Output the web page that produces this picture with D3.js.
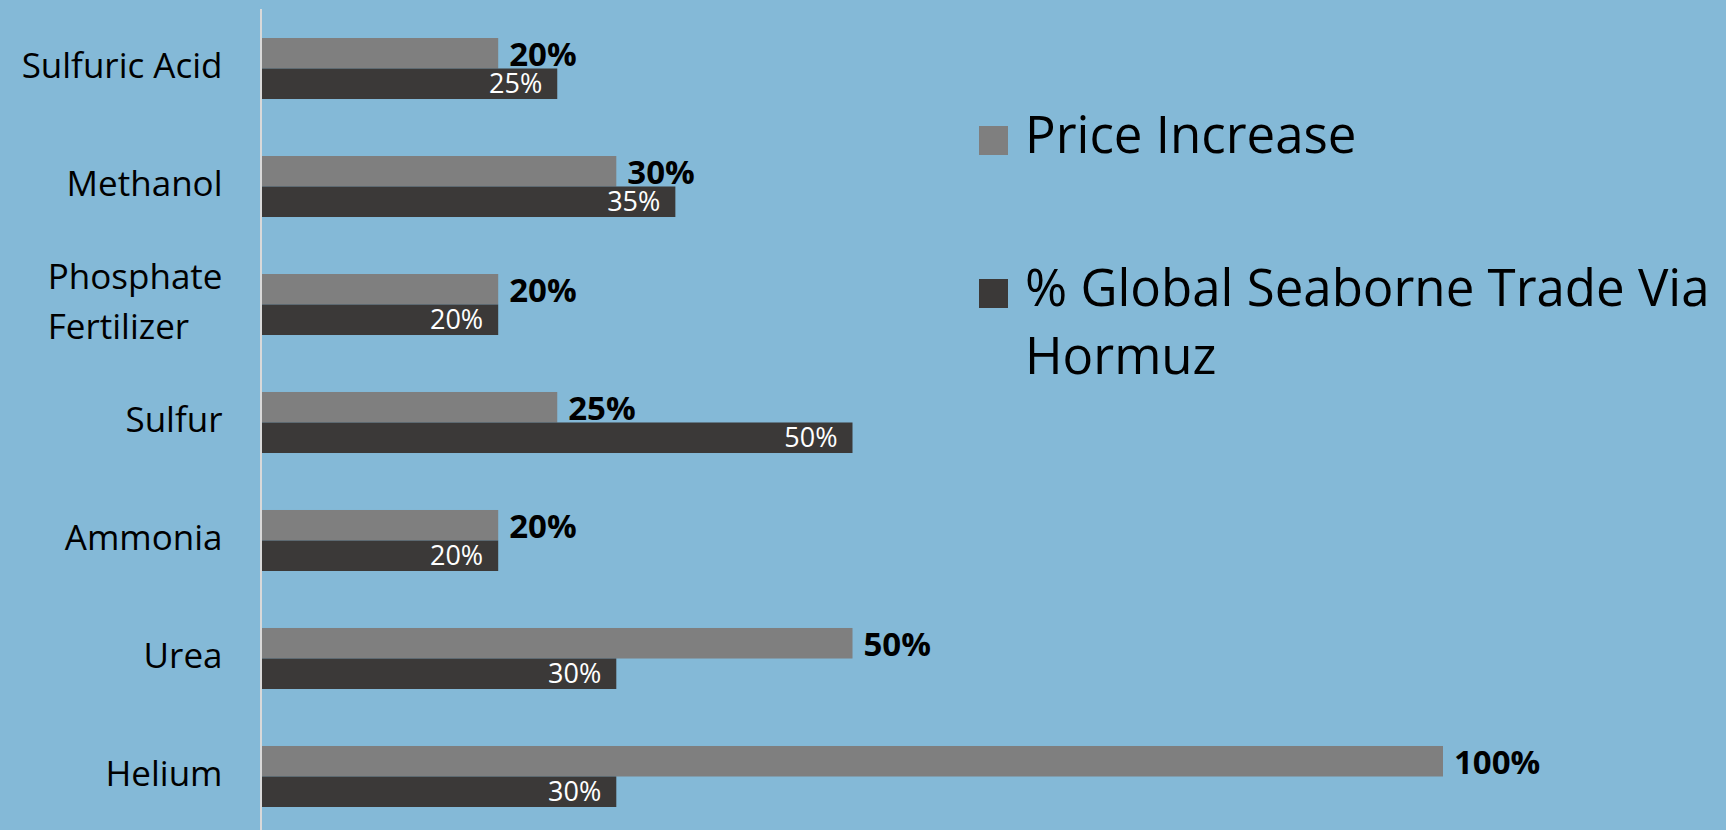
<!DOCTYPE html>
<html>
<head>
<meta charset="utf-8">
<script src="https://cdn.jsdelivr.net/npm/d3@7"></script>
<style>
  body { margin: 0; background: #84b9d7; }
  svg { display: block; font-family: "Open Sans", sans-serif; }
</style>
</head>
<body>
<div id="chart"></div>
<script>
// chart data
var categories = ["Sulfuric Acid", "Methanol", "Phosphate Fertilizer", "Sulfur", "Ammonia", "Urea", "Helium"];
var seriesNames = ["Price Increase", "% Global Seaborne Trade Via Hormuz"];
var priceIncrease = [20, 30, 20, 25, 20, 50, 100];
var seaborneShare = [25, 35, 20, 50, 20, 30, 30];
var seriesColors = ["#7f7f7f", "#3b3938"];

var width = 1726,
    height = 830,
    margin = {left: 262},
    labelSize = 35;

var rows = categories.map(function(c, i) {
  return {name: c, values: [priceIncrease[i], seaborneShare[i]]};
});

var svg = d3.select("#chart").append("svg")
  .attr("width", width)
  .attr("height", height);

svg.append("rect")
  .attr("width", width).attr("height", height)
  .attr("fill", "#84b9d7");

var x = d3.scaleLinear()
  .domain([0, 100])
  .range([margin.left, 1443]);

var y = d3.scaleBand()
  .domain(categories)
  .range([8.5, 836.5])
  .paddingInner(0.483)
  .paddingOuter(0.25);

var ySub = d3.scaleBand()
  .domain([0, 1])
  .range([0, y.bandwidth()]);

// category axis on the left
var yAxis = d3.axisLeft(y).tickSize(0).tickPadding(38);

var axisG = svg.append("g")
  .attr("class", "axis")
  .attr("transform", "translate(" + (margin.left - 1.5) + ",0)")
  .call(yAxis)
  .attr("font-family", null)
  .attr("font-size", null);

axisG.select(".domain")
  .attr("stroke", "#d9d9d9")
  .attr("stroke-width", 2);

axisG.selectAll(".tick text")
  .attr("fill", "#000")
  .attr("dy", "0.28em")
  .style("font-size", labelSize + "px")
  .style("font-weight", 500)
  .call(wrap, 15, 50);

// bars
var groups = svg.selectAll(".row").data(rows).enter()
  .append("g")
    .attr("class", "row")
    .attr("transform", function(d) { return "translate(0," + y(d.name) + ")"; });

groups.selectAll("rect.bar")
  .data(function(d) { return d.values.map(function(v, k) { return {k: k, v: v}; }); })
  .enter().append("rect")
    .attr("class", "bar")
    .attr("x", x(0))
    .attr("y", function(d) { return ySub(d.k); })
    .attr("width", function(d) { return x(d.v) - x(0); })
    .attr("height", ySub.bandwidth())
    .attr("fill", function(d) { return seriesColors[d.k]; });

// price labels: bold, outside the bar
groups.append("text")
  .attr("x", function(d) { return x(d.values[0]) + 11; })
  .attr("y", ySub(0) + ySub.bandwidth() / 2)
  .attr("dy", "0.4em")
  .style("font-size", "33px")
  .style("font-weight", 700)
  .attr("fill", "#000")
  .text(function(d) { return d.values[0] + "%"; });

// share labels: white, inside the bar end
groups.append("text")
  .attr("x", function(d) { return x(d.values[1]) - 15; })
  .attr("y", ySub(1) + ySub.bandwidth() / 2)
  .attr("dy", "0.36em")
  .attr("text-anchor", "end")
  .style("font-size", "27px")
  .attr("fill", "#fff")
  .text(function(d) { return d.values[1] + "%"; });

// legend
var legend = svg.selectAll(".legend").data(seriesNames).enter()
  .append("g")
    .attr("class", "legend")
    .attr("transform", function(d, i) { return "translate(979," + (126 + i * 153) + ")"; });

legend.append("rect")
  .attr("width", 29).attr("height", 29)
  .attr("fill", function(d, i) { return seriesColors[i]; });

legend.append("text")
  .attr("x", 46)
  .attr("y", 27)
  .style("font-size", "51px")
  .style("font-weight", 500)
  .attr("fill", "#000")
  .text(function(d) { return d; })
  .each(function() {
    var t = d3.select(this),
        lines = splitLines(t.text(), 28);
    t.text(null);
    lines.forEach(function(l, i) {
      t.append("tspan").attr("x", 46).attr("dy", i ? 68 : 0).text(l);
    });
  });

function splitLines(str, maxChars) {
  var lines = [], line = [];
  str.split(/\s+/).forEach(function(w) {
    if (line.length && line.concat(w).join(" ").length > maxChars) { lines.push(line.join(" ")); line = [w]; }
    else line.push(w);
  });
  lines.push(line.join(" "));
  return lines;
}

// split long category names onto lines, left aligned inside the label block
function wrap(text, maxChars, lineHeight) {
  text.each(function() {
    var t = d3.select(this),
        lines = splitLines(t.text(), maxChars);
    if (lines.length < 2) return;
    var x0 = +t.attr("x");
    t.text(null);
    var spans = lines.map(function(l, i) {
      var dy = i ? lineHeight : 0.28 * labelSize - (lines.length - 1) * lineHeight / 2;
      return t.append("tspan").attr("dy", dy).text(l);
    });
    var w = d3.max(spans, function(s) { return s.node().getComputedTextLength(); });
    t.attr("text-anchor", "start");
    spans.forEach(function(s) { s.attr("x", x0 - w); });
  });
}
</script>
</body>
</html>
